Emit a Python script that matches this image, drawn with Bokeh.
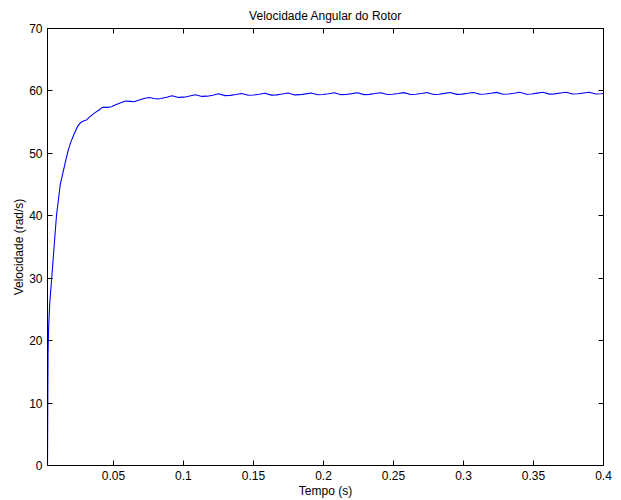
from bokeh.plotting import figure
from bokeh.models import LinearAxis, FixedTicker, Range1d
from bokeh.embed import file_html
from bokeh.resources import INLINE

# Time (s)
tempo = [
    0.0029, 0.0031, 0.0033, 0.0037, 0.0045, 0.0059, 0.0076, 0.0093, 0.0120, 0.0159,
    0.0176, 0.0195, 0.0219, 0.0243, 0.0266, 0.0290, 0.0307, 0.0326, 0.0361, 0.0397,
    0.0421, 0.0457, 0.0486, 0.0516, 0.0552, 0.0588, 0.0624, 0.0647, 0.0683, 0.0719,
    0.0754, 0.0790, 0.0814, 0.0838, 0.0880,
    0.0919, 0.0966, 0.1004, 0.1044,
    0.1085, 0.1132, 0.1170, 0.1210,
    0.1250, 0.1297, 0.1335, 0.1375,
    0.1416, 0.1463, 0.1501, 0.1541,
    0.1581, 0.1628, 0.1666, 0.1706,
    0.1747, 0.1794, 0.1832, 0.1872,
    0.1912, 0.1959, 0.1997, 0.2037,
    0.2078, 0.2125, 0.2163, 0.2203,
    0.2243, 0.2290, 0.2328, 0.2368,
    0.2409, 0.2456, 0.2494, 0.2534,
    0.2574, 0.2621, 0.2659, 0.2699,
    0.2740, 0.2787, 0.2825, 0.2865,
    0.2905, 0.2952, 0.2990, 0.3030,
    0.3071, 0.3118, 0.3156, 0.3196,
    0.3236, 0.3283, 0.3321, 0.3361,
    0.3402, 0.3449, 0.3487, 0.3527,
    0.3567, 0.3614, 0.3652, 0.3692,
    0.3733, 0.3780, 0.3818, 0.3858,
    0.3898, 0.3945, 0.3983,
    0.4000,
]

# Angular speed (rad/s)
velocidade = [
    0, 10, 18, 22, 26, 30, 35, 40, 45, 48.83,
    50.43, 51.76, 53.1, 54.27, 54.96, 55.23, 55.34, 55.76, 56.4, 56.94,
    57.36, 57.36, 57.47, 57.79, 58.11, 58.38, 58.32, 58.27, 58.54, 58.8,
    58.96, 58.8, 58.7, 58.8, 59.0,
    59.23, 58.96, 59.00, 59.18,
    59.39, 59.12, 59.16, 59.30,
    59.55, 59.25, 59.29, 59.42,
    59.60, 59.30, 59.34, 59.47,
    59.63, 59.33, 59.37, 59.50,
    59.66, 59.36, 59.40, 59.53,
    59.68, 59.38, 59.42, 59.55,
    59.70, 59.40, 59.44, 59.57,
    59.71, 59.41, 59.45, 59.58,
    59.72, 59.42, 59.46, 59.59,
    59.73, 59.43, 59.47, 59.60,
    59.74, 59.44, 59.48, 59.61,
    59.75, 59.45, 59.49, 59.62,
    59.76, 59.46, 59.50, 59.63,
    59.77, 59.47, 59.51, 59.64,
    59.78, 59.48, 59.52, 59.65,
    59.78, 59.49, 59.53, 59.66,
    59.79, 59.50, 59.54, 59.67,
    59.80, 59.50, 59.54,
    59.60,
]

x_ticks = [0.05, 0.1, 0.15, 0.2, 0.25, 0.3, 0.35, 0.4]
y_ticks = [0, 10, 20, 30, 40, 50, 60, 70]

FONT = "Liberation Sans"

p = figure(width=621, height=500, output_backend="svg", toolbar_location=None,
           x_range=Range1d(0.0029, 0.4), y_range=Range1d(0, 70),
           min_border_left=47, min_border_right=18, min_border_top=28, min_border_bottom=35,
           title="Velocidade Angular do Rotor")
p.background_fill_color = "white"
p.border_fill_color = "white"
p.outline_line_color = "black"
p.outline_line_width = 1
p.grid.visible = False

p.title.align = "center"
p.title.text_font = FONT
p.title.text_font_size = "12px"
p.title.text_font_style = "normal"
p.title.text_color = "black"
p.title.standoff = 12

p.line(tempo, velocidade, line_color="#0000FF", line_width=1.1)

def style_axis(ax, ticks, show_labels=True):
    ax.ticker = FixedTicker(ticks=ticks)
    ax.major_tick_in = 5
    ax.major_tick_out = 0
    ax.minor_tick_in = 0
    ax.minor_tick_out = 0
    ax.axis_line_color = "black"
    ax.major_tick_line_color = "black"
    ax.axis_line_width = 1
    ax.major_label_text_font = FONT
    ax.axis_label_text_font = FONT
    ax.axis_label_text_font_style = "normal"
    ax.axis_label_text_color = "black"
    ax.axis_label_text_font_size = "12px"
    if show_labels:
        ax.major_label_text_color = "black"
        ax.major_label_text_font_size = "12px"
        ax.major_label_standoff = 5
    else:
        ax.major_label_text_color = None
        ax.major_label_text_font_size = "1px"
        ax.major_label_standoff = 0

style_axis(p.xaxis[0], x_ticks)
style_axis(p.yaxis[0], y_ticks)
p.xaxis[0].axis_label = "Tempo (s)"
p.xaxis[0].axis_label_standoff = 1
p.yaxis[0].axis_label = "Velocidade (rad/s)"
p.yaxis[0].axis_label_standoff = 0

top_ax = LinearAxis()
style_axis(top_ax, x_ticks, show_labels=False)
p.add_layout(top_ax, "above")
right_ax = LinearAxis()
style_axis(right_ax, y_ticks, show_labels=False)
p.add_layout(right_ax, "right")

open("out.html", "w").write(file_html(p, INLINE))
